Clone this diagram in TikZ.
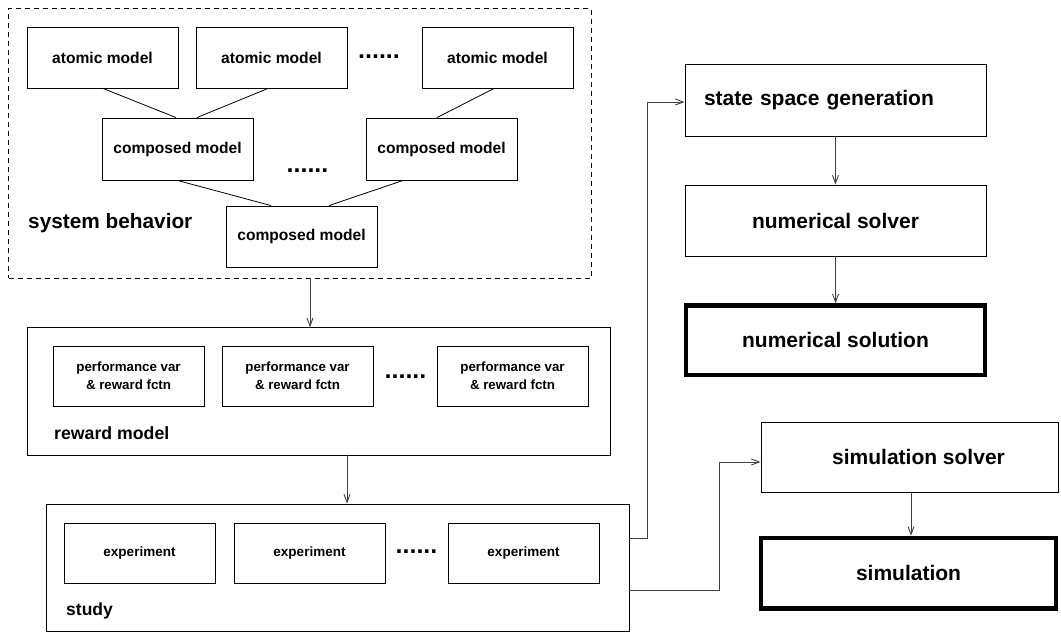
\documentclass[tikz,border=0pt]{standalone}
\usepackage{fontspec}
\setmainfont{Liberation Sans}
\usetikzlibrary{arrows.meta}
\begin{document}
\begin{tikzpicture}[x=1pt,y=-1pt,
  frame/.style={draw=black,line width=0.9pt,rectangle,inner sep=0pt},
  amodel/.style={draw=black,line width=0.9pt,rectangle,inner sep=0pt,minimum width=151pt,minimum height=61pt,font=\bfseries\fontsize{15.6}{18}\selectfont},
  pbox/.style={draw=black,line width=0.9pt,rectangle,inner sep=0pt,minimum width=151pt,minimum height=60pt,align=center,font=\bfseries\fontsize{13.3}{17.7}\selectfont},
  ebox/.style={draw=black,line width=0.9pt,rectangle,inner sep=0pt,minimum width=151pt,minimum height=60pt,font=\bfseries\fontsize{13.5}{16}\selectfont},
  bigbox/.style={draw=black,line width=0.9pt,rectangle,inner sep=0pt,font=\bfseries\fontsize{21}{25}\selectfont},
  thickbox/.style={bigbox,line width=4.5pt},
  lbl/.style={anchor=base west,inner sep=0pt},
  dotsep/.style={inner sep=0pt,font=\bfseries\fontsize{25}{25}\selectfont},
  link/.style={draw=black,line width=0.8pt},
  arr/.style={draw=black!75,line width=0.9pt,-{Straight Barb[length=8pt,width=6pt]}}
]
\useasboundingbox (0,0) rectangle (1061,632);
\fill[white] (0,0) rectangle (1061,632);

% system behavior frame
\node[frame,dashed,dash pattern=on 5pt off 4pt,minimum width=582.5pt,minimum height=269.5pt] (sys) at (299.75,143.25) {};
\node[amodel] (a1) at (102.5,57.5) {atomic model};
\node[amodel] (a2) at (271.5,57.5) {atomic model};
\node[amodel] (a3) at (497.5,57.5) {atomic model};
\node[dotsep] (d1) at (379,57) {......};
\node[amodel,minimum height=62pt] (c1) at (177.5,149) {composed model};
\node[amodel,minimum height=62pt] (c2) at (441.5,149) {composed model};
\node[dotsep] (d2) at (307.5,171) {......};
\node[amodel] (c3) at (301.5,236.5) {composed model};
\node[lbl,font=\bfseries\fontsize{20.8}{24}\selectfont] (sb) at (28,228.5) {system behavior};

\draw[link] ([xshift=0.5pt]a1.south) -- ([xshift=-1.5pt]c1.north);
\draw[link] ([xshift=-3.5pt]a2.south) -- ([xshift=19.5pt]c1.north);
\draw[link] ([xshift=-3.5pt]a3.south) -- ([xshift=-4.5pt]c2.north);
\draw[link] (c1.south) -- ([xshift=-30.5pt]c3.north);
\draw[link] ([xshift=-38.5pt]c2.south) -- ([xshift=27.5pt]c3.north);

% reward model
\node[frame,minimum width=582.7pt,minimum height=127.3pt] (rew) at (318.65,391.35) {};
\node[pbox] (p1) at (128.5,376) {performance var\\\& reward fctn};
\node[pbox] (p2) at (297.5,376) {performance var\\\& reward fctn};
\node[dotsep] (d3) at (405.5,377) {......};
\node[pbox] (p3) at (512.5,376) {performance var\\\& reward fctn};
\node[lbl,font=\bfseries\fontsize{17.7}{21}\selectfont] (rl) at (54,439.5) {reward model};

% study
\node[frame,minimum width=583pt,minimum height=127pt] (st) at (337.5,567.5) {};
\node[ebox] (e1) at (139.5,553) {experiment};
\node[ebox] (e2) at (309.5,553) {experiment};
\node[dotsep] (d4) at (416.5,552) {......};
\node[ebox] (e3) at (523.5,553) {experiment};
\node[lbl,font=\bfseries\fontsize{17.5}{21}\selectfont] (sl) at (66,615) {study};

% right column
\node[bigbox,minimum width=301pt,minimum height=72pt,text width=263pt,inner xsep=19pt,align=left] (ssg) at (835.5,100) {state space generation};
\node[bigbox,minimum width=301pt,minimum height=71pt] (ns) at (835.5,220.5) {numerical solver};
\node[thickbox,minimum width=299pt,minimum height=69.5pt] (nsol) at (835.5,340.25) {numerical solution};
\node[bigbox,minimum width=297pt,minimum height=70pt] (ss) at (909.5,457) {\hspace*{18pt}simulation solver};
\node[thickbox,minimum width=295pt,minimum height=70.7pt] (sim) at (908.5,573.35) {simulation};

% connectors
\coordinate (x1) at (310,0);
\coordinate (x2) at (347,0);
\coordinate (k1) at (647,538);
\coordinate (k2) at (719,590);
\draw[arr] (sys.south -| x1) -- (rew.north -| x1);
\draw[arr] (rew.south -| x2) -- (st.north -| x2);
\draw[arr] (k1 -| st.east) -- (k1) |- ([yshift=-2pt]ssg.west);
\draw[arr] (k2 -| st.east) -- (k2) |- ([yshift=-5pt]ss.west);
\draw[arr] (ssg.south) -- (ns.north);
\draw[arr] (ns.south) -- (nsol.north);
\draw[arr] ([xshift=1.5pt]ss.south) -- ([xshift=2.5pt]sim.north);
\end{tikzpicture}
\end{document}
